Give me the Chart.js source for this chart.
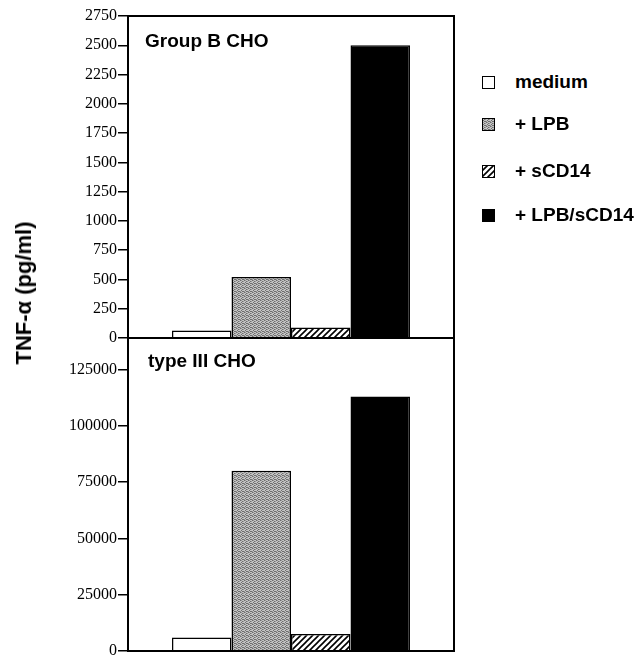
<!DOCTYPE html>
<html><head><meta charset="utf-8">
<script src="https://cdn.jsdelivr.net/npm/chart.js@4/dist/chart.umd.min.js"></script>
<style>
html,body{margin:0;padding:0;background:#fff;width:639px;height:656px;overflow:hidden;}
body{position:relative;}
#c1{position:absolute;left:0;top:0;}
#c2{position:absolute;left:0;top:300px;}
#ytitle{position:absolute;left:24px;top:293px;transform:translate(-50%,-50%) rotate(-90deg);font:bold 22px "Liberation Sans",Arial,sans-serif;white-space:nowrap;color:#000;}
#legend{position:absolute;left:482px;top:0;font:bold 19px "Liberation Sans",Arial,sans-serif;color:#000;}
.row{position:absolute;left:0;height:24px;display:flex;align-items:center;white-space:nowrap;}
.row canvas{display:block;margin-right:20px;}
</style>
</head><body>
<canvas id="c1" width="460" height="400"></canvas>
<canvas id="c2" width="460" height="380"></canvas>
<div id="ytitle"></div>
<div id="legend"></div>
<script>
const seriesLabels = ['medium', '+ LPB', '+ sCD14', '+ LPB/sCD14'];
const groupBValues = [65, 520, 90, 2500];
const typeIIIValues = [6000, 80000, 7500, 113000];
const topTicks = [0, 250, 500, 750, 1000, 1250, 1500, 1750, 2000, 2250, 2500, 2750];
const bottomTicks = [0, 25000, 50000, 75000, 100000, 125000];
const panelTitles = ['Group B CHO', 'type III CHO'];
const yTitle = 'TNF-α (pg/ml)';

function makeFill(kind) {
  if (kind === 0) return '#ffffff';
  if (kind === 3) return '#000000';
  const c = document.createElement('canvas');
  const g = c.getContext('2d');
  if (kind === 1) {
    c.width = 4; c.height = 4;
    g.fillStyle = '#c4c4c4'; g.fillRect(0, 0, 4, 4);
    g.fillStyle = '#6e6e6e';
    [[0,0],[2,1],[1,2],[3,3],[2,3]].forEach(p => g.fillRect(p[0], p[1], 1, 1));
    g.fillStyle = '#959595';
    [[1,0],[3,1],[0,3]].forEach(p => g.fillRect(p[0], p[1], 1, 1));
  } else {
    c.width = 6; c.height = 6;
    g.fillStyle = '#ffffff'; g.fillRect(0, 0, 6, 6);
    g.strokeStyle = '#000'; g.lineWidth = 1.6;
    g.beginPath();
    g.moveTo(-1, 7); g.lineTo(7, -1);
    g.moveTo(-4, 4); g.lineTo(4, -4);
    g.moveTo(2, 10); g.lineTo(10, 2);
    g.stroke();
  }
  return g.createPattern(c, 'repeat');
}
const fills = [0, 1, 2, 3].map(makeFill);

const boxPlugin = {
  id: 'panelBox',
  afterDraw(chart, args, opts) {
    const a = chart.chartArea, ctx = chart.ctx;
    ctx.save();
    ctx.strokeStyle = '#000'; ctx.lineWidth = 2;
    ctx.strokeRect(a.left, a.top, a.right - a.left, a.bottom - a.top);
    ctx.font = 'bold 19px "Liberation Sans", Arial, sans-serif';
    ctx.fillStyle = '#000'; ctx.textBaseline = 'alphabetic'; ctx.textAlign = 'left';
    ctx.fillText(opts.text, a.left + opts.dx, a.top + opts.dy);
    ctx.restore();
  }
};

function makeChart(id, values, ticks, max, pad, label, dx, dy) {
  return new Chart(document.getElementById(id), {
    type: 'bar',
    data: {
      labels: [''],
      datasets: seriesLabels.map((s, i) => ({
        label: s,
        data: [values[i]],
        backgroundColor: fills[i],
        borderColor: '#000',
        borderWidth: 1.5,
        categoryPercentage: 0.73,
        barPercentage: 1.0
      }))
    },
    options: {
      responsive: false,
      animation: false,
      layout: { padding: pad },
      plugins: { legend: { display: false }, tooltip: { enabled: false }, panelBox: { text: label, dx: dx, dy: dy } },
      scales: {
        x: { display: false },
        y: {
          min: 0, max: max,
          afterFit(s) { s.width = 128; },
          afterBuildTicks(s) { s.ticks = ticks.map(v => ({ value: v })); },
          ticks: {
            includeBounds: false,
            color: '#000',
            padding: 1,
            font: { family: '"Liberation Serif", "Times New Roman", serif', size: 16 },
            callback: v => String(v)
          },
          grid: { drawOnChartArea: false, tickLength: 10, color: '#000', lineWidth: 1.5 },
          border: { color: '#000', width: 2 }
        }
      }
    },
    plugins: [boxPlugin]
  });
}

makeChart('c1', groupBValues, topTicks, 2750, { left: 0, right: 6, top: 16, bottom: 62 }, panelTitles[0], 17, 31);
makeChart('c2', typeIIIValues, bottomTicks, 139000, { left: 0, right: 6, top: 38, bottom: 29 }, panelTitles[1], 20, 29);

document.getElementById('ytitle').textContent = yTitle;
const legend = document.getElementById('legend');
const rowCenters = [82, 124, 171, 215];
seriesLabels.forEach((s, i) => {
  const row = document.createElement('div');
  row.className = 'row';
  row.style.top = (rowCenters[i] - 12) + 'px';
  const sw = document.createElement('canvas');
  sw.width = 13; sw.height = 13;
  const g = sw.getContext('2d');
  g.fillStyle = fills[i]; g.fillRect(0, 0, 13, 13);
  g.strokeStyle = '#000'; g.lineWidth = 1; g.strokeRect(0.5, 0.5, 12, 12);
  const t = document.createElement('span');
  t.textContent = s;
  row.appendChild(sw); row.appendChild(t);
  legend.appendChild(row);
});
</script>
</body></html>
